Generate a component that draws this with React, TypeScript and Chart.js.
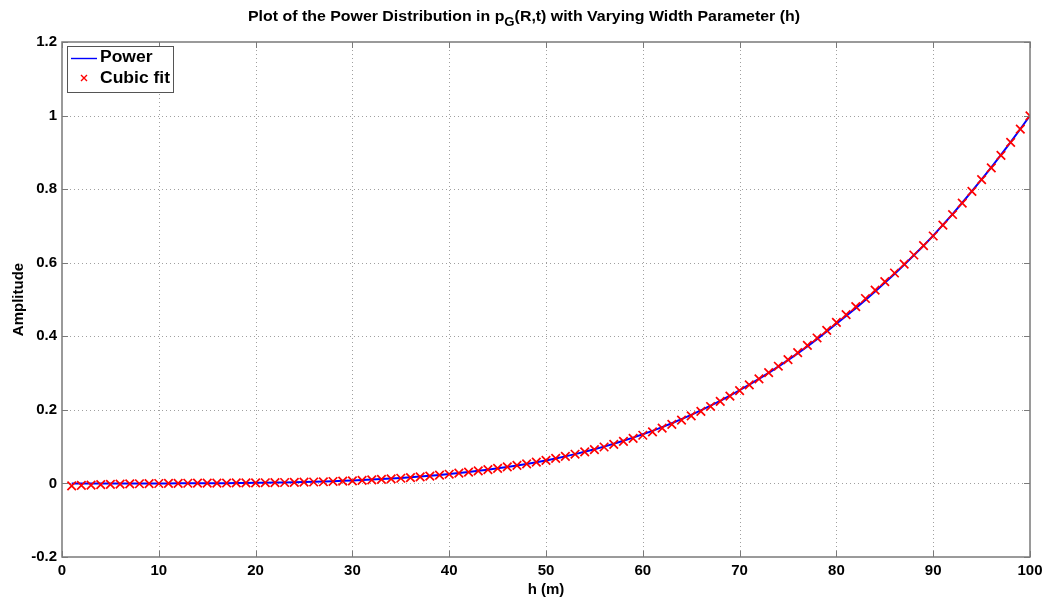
import React, { useEffect, useRef } from "react";
import { Chart, registerables } from "chart.js";

Chart.register(...registerables);

const hValues = [
  1, 2, 3, 4, 5, 6, 7, 8, 9, 10, 11, 12, 13, 14, 15, 16, 17, 18, 19, 20,
  21, 22, 23, 24, 25, 26, 27, 28, 29, 30, 31, 32, 33, 34, 35, 36, 37, 38, 39, 40,
  41, 42, 43, 44, 45, 46, 47, 48, 49, 50, 51, 52, 53, 54, 55, 56, 57, 58, 59, 60,
  61, 62, 63, 64, 65, 66, 67, 68, 69, 70, 71, 72, 73, 74, 75, 76, 77, 78, 79, 80,
  81, 82, 83, 84, 85, 86, 87, 88, 89, 90, 91, 92, 93, 94, 95, 96, 97, 98, 99, 100,
];

const powerValues = [
  0.0, 0.0, 0.0, 0.0, 0.0001, 0.0001, 0.0001, 0.0001, 0.0001, 0.0001,
  0.0001, 0.0002, 0.0003, 0.0004, 0.0005, 0.0007, 0.0008, 0.001, 0.0013, 0.0016,
  0.0019, 0.0023, 0.0028, 0.0033, 0.0039, 0.0046, 0.0053, 0.0062, 0.0071, 0.0081,
  0.0092, 0.0105, 0.0119, 0.0134, 0.015, 0.0168, 0.0187, 0.0209, 0.0231, 0.0256,
  0.0283, 0.0311, 0.0342, 0.0375, 0.041, 0.0448, 0.0488, 0.0531, 0.0577, 0.0625,
  0.0679, 0.0736, 0.0796, 0.0861, 0.0929, 0.1001, 0.1078, 0.1159, 0.1244, 0.1335,
  0.143, 0.1531, 0.1637, 0.1748, 0.1865, 0.1987, 0.2114, 0.2247, 0.2387, 0.2533,
  0.2684, 0.2841, 0.3005, 0.3176, 0.3354, 0.3536, 0.3726, 0.3924, 0.4129, 0.4342,
  0.455, 0.4765, 0.4988, 0.5218, 0.5455, 0.5694, 0.5941, 0.6201, 0.6462, 0.6738,
  0.7029, 0.7322, 0.763, 0.7948, 0.8267, 0.8595, 0.8933, 0.9279, 0.9635, 1.0,
];

const cubicFitValues = [
  -0.0065, -0.0055, -0.0045, -0.0035, -0.0027, -0.002, -0.0014, -0.0009, -0.0005, -0.0002,
  0.0001, 0.0003, 0.0005, 0.0007, 0.0008, 0.001, 0.0011, 0.0013, 0.0015, 0.0017,
  0.0019, 0.0022, 0.0025, 0.0029, 0.0033, 0.0039, 0.0045, 0.0053, 0.0061, 0.0071,
  0.0082, 0.0095, 0.0109, 0.0124, 0.0141, 0.0159, 0.0179, 0.0201, 0.0224, 0.025,
  0.0278, 0.0308, 0.034, 0.0374, 0.041, 0.0449, 0.049, 0.0534, 0.058, 0.0629,
  0.0681, 0.0736, 0.0794, 0.0856, 0.0921, 0.099, 0.1063, 0.1141, 0.1223, 0.131,
  0.1403, 0.1502, 0.1607, 0.1719, 0.1837, 0.1961, 0.2092, 0.2229, 0.2372, 0.2522,
  0.2678, 0.2841, 0.301, 0.3186, 0.3368, 0.3557, 0.3752, 0.3954, 0.4162, 0.4376,
  0.459, 0.4806, 0.5027, 0.5253, 0.5484, 0.572, 0.5962, 0.621, 0.6464, 0.6726,
  0.702, 0.731, 0.762, 0.794, 0.826, 0.858, 0.892, 0.927, 0.963, 0.999,
];

const xTickValues = [0, 10, 20, 30, 40, 50, 60, 70, 80, 90, 100];
const yTickValues = [-0.2, 0, 0.2, 0.4, 0.6, 0.8, 1, 1.2];

const titleBefore = "Plot of the Power Distribution in p";
const titleSub = "G";
const titleAfter = "(R,t) with Varying Width Parameter (h)";
const legendLabels = ["Power", "Cubic fit"];
const xAxisTitle = "h (m)";
const yAxisTitle = "Amplitude";

const FONT = "'Liberation Sans', Arial, Helvetica, sans-serif";
const FRAME = "#7a7a7a";

const matlabPlugin = {
  id: "matlabFrame",
  beforeDatasetsDraw(chart: any) {
    const { ctx, chartArea: a, scales } = chart;
    ctx.save();
    ctx.strokeStyle = "#a0a0a0";
    ctx.lineWidth = 1;
    ctx.setLineDash([1, 3]);
    xTickValues.forEach((v, i) => {
      if (i === 0 || i === xTickValues.length - 1) return;
      const x = Math.round(scales.x.getPixelForValue(v)) + 0.5;
      ctx.beginPath();
      ctx.moveTo(x, a.top);
      ctx.lineTo(x, a.bottom);
      ctx.stroke();
    });
    yTickValues.forEach((v, i) => {
      if (i === 0 || i === yTickValues.length - 1) return;
      const y = Math.round(scales.y.getPixelForValue(v)) + 0.5;
      ctx.beginPath();
      ctx.moveTo(a.left, y);
      ctx.lineTo(a.right, y);
      ctx.stroke();
    });
    ctx.restore();
  },
  afterDatasetsDraw(chart: any) {
    const { ctx, chartArea: a, scales } = chart;
    ctx.save();
    // frame
    ctx.strokeStyle = FRAME;
    ctx.lineWidth = 1.5;
    ctx.setLineDash([]);
    ctx.strokeRect(Math.round(a.left), Math.round(a.top), Math.round(a.right - a.left), Math.round(a.bottom - a.top));
    // ticks
    const tl = 6;
    ctx.lineWidth = 1;
    xTickValues.forEach((v) => {
      const x = Math.round(scales.x.getPixelForValue(v)) + 0.5;
      ctx.beginPath();
      ctx.moveTo(x, a.bottom);
      ctx.lineTo(x, a.bottom - tl);
      ctx.moveTo(x, a.top);
      ctx.lineTo(x, a.top + tl);
      ctx.stroke();
    });
    yTickValues.forEach((v) => {
      const y = Math.round(scales.y.getPixelForValue(v)) + 0.5;
      ctx.beginPath();
      ctx.moveTo(a.left, y);
      ctx.lineTo(a.left + tl, y);
      ctx.moveTo(a.right, y);
      ctx.lineTo(a.right - tl, y);
      ctx.stroke();
    });

    // legend
    const lx = 67, ly = 46, lw = 106, lh = 46;
    ctx.fillStyle = "#ffffff";
    ctx.fillRect(lx, ly, lw, lh);
    ctx.strokeStyle = "#555555";
    ctx.lineWidth = 1;
    ctx.strokeRect(lx + 0.5, ly + 0.5, lw, lh);
    ctx.strokeStyle = "#0000ff";
    ctx.lineWidth = 1.4;
    ctx.beginPath();
    ctx.moveTo(71, 58.5);
    ctx.lineTo(97, 58.5);
    ctx.stroke();
    ctx.strokeStyle = "#ff0000";
    ctx.lineWidth = 1.4;
    ctx.beginPath();
    ctx.moveTo(81, 75);
    ctx.lineTo(87, 81);
    ctx.moveTo(87, 75);
    ctx.lineTo(81, 81);
    ctx.stroke();
    ctx.fillStyle = "#000000";
    ctx.textBaseline = "middle";
    ctx.textAlign = "left";
    ctx.font = `bold 16px ${FONT}`;
    const lw0 = ctx.measureText(legendLabels[1]).width;
    ctx.save();
    ctx.translate(100, 0);
    ctx.scale(70 / lw0, 1);
    ctx.fillText(legendLabels[0], 0, 58);
    ctx.fillText(legendLabels[1], 0, 79);
    ctx.restore();

    // title with subscript
    const mainFont = `bold 14.5px ${FONT}`;
    const subFont = `bold 12px ${FONT}`;
    ctx.font = mainFont;
    const w1 = ctx.measureText(titleBefore).width;
    const w3 = ctx.measureText(titleAfter).width;
    ctx.font = subFont;
    const w2 = ctx.measureText(titleSub).width;
    const total = w1 + w2 + w3;
    const target = 552;
    const sx = target / total;
    const cx = 524;
    ctx.translate(cx - target / 2, 0);
    ctx.scale(sx, 1);
    ctx.textBaseline = "alphabetic";
    ctx.textAlign = "left";
    ctx.font = mainFont;
    ctx.fillText(titleBefore, 0, 21);
    ctx.font = subFont;
    ctx.fillText(titleSub, w1, 26);
    ctx.font = mainFont;
    ctx.fillText(titleAfter, w1 + w2, 21);
    ctx.restore();
  },
};

export default function App() {
  const canvasRef = useRef<HTMLCanvasElement | null>(null);

  useEffect(() => {
    const canvas = canvasRef.current;
    if (!canvas) return;
    const chart = new Chart(canvas, {
      type: "line",
      data: {
        datasets: [
          {
            label: legendLabels[1],
            data: hValues.map((h, i) => ({ x: h, y: cubicFitValues[i] })),
            showLine: false,
            pointStyle: "crossRot",
            pointRadius: 6,
            pointBorderWidth: 1.7,
            borderColor: "#ff0000",
            backgroundColor: "#ff0000",
            order: 0,
          },
          {
            label: legendLabels[0],
            data: hValues.map((h, i) => ({ x: h, y: powerValues[i] })),
            borderColor: "#0000ff",
            borderWidth: 2,
            pointRadius: 0,
            tension: 0,
            order: 1,
          },
        ],
      },
      options: {
        responsive: false,
        animation: false,
        events: [],
        layout: { padding: { top: 42, right: 15, left: 0, bottom: 0 } },
        plugins: {
          legend: { display: false },
          tooltip: { enabled: false },
          title: { display: false },
        },
        scales: {
          x: {
            type: "linear",
            min: 0,
            max: 100,
            afterBuildTicks: (s: any) => {
              s.ticks = xTickValues.map((v) => ({ value: v }));
            },
            afterFit: (s: any) => {
              s.height = 43;
              s.paddingLeft = 0;
              s.paddingRight = 0;
            },
            grid: { display: false, drawTicks: false },
            border: { display: false },
            ticks: {
              color: "#000",
              padding: 5,
              maxRotation: 0,
              autoSkip: false,
              font: { family: FONT, size: 15, weight: "bold" },
              callback: (v: any) => String(v),
            },
            title: {
              display: true,
              text: xAxisTitle,
              color: "#000",
              padding: { top: 0, bottom: 1 },
              font: { family: FONT, size: 15, weight: "bold" },
            },
          },
          y: {
            type: "linear",
            min: -0.2,
            max: 1.2,
            afterBuildTicks: (s: any) => {
              s.ticks = yTickValues.map((v) => ({ value: v }));
            },
            afterFit: (s: any) => {
              s.width = 62;
              s.paddingTop = 0;
              s.paddingBottom = 0;
            },
            grid: { display: false, drawTicks: false },
            border: { display: false },
            ticks: {
              color: "#000",
              padding: 5,
              autoSkip: false,
              font: { family: FONT, size: 15, weight: "bold" },
              callback: (v: any) => String(Number(Number(v).toFixed(1))),
            },
            title: {
              display: true,
              text: yAxisTitle,
              color: "#000",
              padding: { top: 10, bottom: 0 },
              font: { family: FONT, size: 15, weight: "bold" },
            },
          },
        },
      } as any,
      plugins: [matlabPlugin],
    });
    return () => chart.destroy();
  }, []);

  return (
    <div style={{ position: "fixed", left: 0, top: 0, width: 1045, height: 600, background: "#fff" }}>
      <canvas ref={canvasRef} width={1045} height={600} style={{ width: 1045, height: 600, display: "block" }} />
    </div>
  );
}
